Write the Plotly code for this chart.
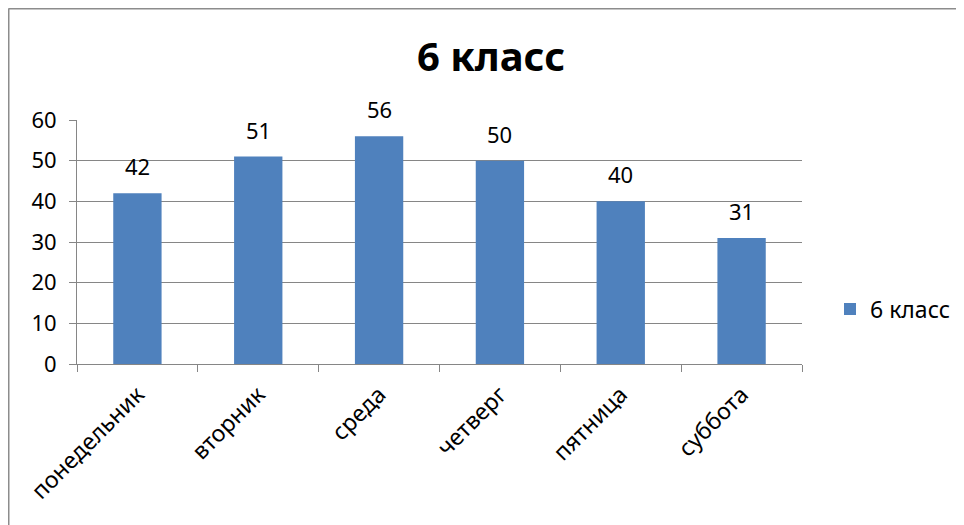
import plotly.graph_objects as go

categories = ["понедельник", "вторник", "среда", "четверг", "пятница", "суббота"]
values = [42, 51, 56, 50, 40, 31]
series_name = "6 класс"
title_text = "6 класс"
y_ticks = [0, 10, 20, 30, 40, 50, 60]

W, H = 964, 525
OFF = 8  # page body margin
# plot area in screen pixels: x 77..802, y 120..364
ML = 77 - OFF
MT = 120 - OFF
MR = W - (802 - OFF)
MB = H - (364 - OFF)
PW = W - ML - MR
PH = H - MT - MB

def px_x(p):
    return (p - OFF - ML) / PW

def px_y(p):
    return (H - MB - (p - OFF)) / PH

font_fam = "Noto Sans, Open Sans, Liberation Sans, sans-serif"

fig = go.Figure()
fig.add_trace(go.Bar(
    x=categories, y=values, name=series_name,
    marker=dict(color="#4F81BD", line=dict(width=0)),
    showlegend=True,
))

for c, v in zip(categories, values):
    fig.add_annotation(x=c, y=v, text=str(v), showarrow=False, yshift=27,
                       font=dict(size=22, color="#000000", family=font_fam))

fig.update_layout(
    width=W, height=H,
    margin=dict(l=ML, r=MR, t=MT, b=MB, autoexpand=False),
    paper_bgcolor="white", plot_bgcolor="white",
    bargap=0.6,
    title=dict(text="<b>" + title_text + "</b>", x=(491 - OFF) / W, xanchor="center",
               y=1 - (57 - OFF) / H, yanchor="middle",
               font=dict(size=40, color="#000000", family=font_fam)),
    legend=dict(x=px_x(830), y=px_y(309), xanchor="left", yanchor="middle",
                font=dict(size=23, color="#000000", family=font_fam),
                bgcolor="rgba(0,0,0,0)", itemwidth=30),
    font=dict(family=font_fam, color="#000000"),
    shapes=[
        dict(type="line", xref="paper", yref="paper",
             x0=px_x(8.5), x1=px_x(8.5), y0=px_y(8.5), y1=px_y(540),
             line=dict(color="#8c8c8c", width=2)),
        dict(type="line", xref="paper", yref="paper",
             x0=px_x(8.5), x1=px_x(990), y0=px_y(8.5), y1=px_y(8.5),
             line=dict(color="#8c8c8c", width=2)),
    ],
)

fig.update_xaxes(
    type="category", tickangle=-45, automargin=False,
    showline=True, linecolor="#868686", linewidth=1,
    ticks="outside", tickson="boundaries", ticklen=7, tickcolor="#868686",
    tickfont=dict(size=23, color="#000000", family=font_fam),
    ticklabelstandoff=7,
    showgrid=False,
)
fig.update_yaxes(
    range=[0, 60], tickvals=y_ticks, automargin=False,
    showline=True, linecolor="#868686", linewidth=1,
    ticks="outside", ticklen=7, tickcolor="#868686",
    showgrid=True, gridcolor="#868686", gridwidth=1,
    zeroline=False,
    tickfont=dict(size=22, color="#000000", family=font_fam),
    ticklabelstandoff=8,
)

fig.write_html("out.html")
